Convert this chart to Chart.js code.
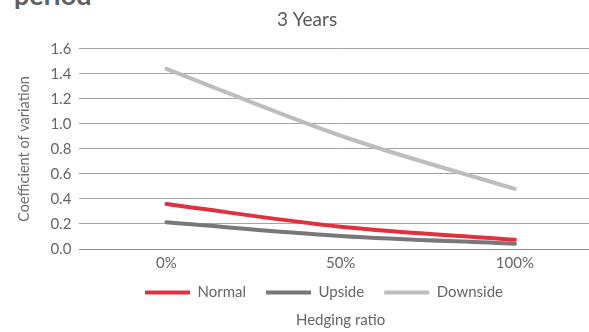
<!DOCTYPE html>
<html>
<head>
<meta charset="utf-8">
<script src="https://cdn.jsdelivr.net/npm/chart.js@4"></script>
<style>
  html, body { margin: 0; padding: 0; background: #fff; overflow: hidden; }
  #wrap { position: relative; width: 589px; height: 332px; overflow: hidden; }
  #heading {
    position: absolute; left: 14px; top: -19px;
    font: bold 27px Lato, sans-serif; line-height: 27px; color: #606060;
  }
  #chart { position: absolute; left: 0; top: 0; }
</style>
</head>
<body>
<div id="wrap">
  <div id="heading">period</div>
  <canvas id="chart" width="646" height="332"></canvas>
</div>
<script>
const hedgingRatios = ["0%", "50%", "100%"];
const normal = [0.36, 0.178, 0.074];
const upside = [0.213, 0.104, 0.042];
const downside = [1.44, 0.905, 0.48];

const textColor = "#666666";

// Excel centres the legend a bit right of the title and tucks it up
const nudgeLegend = {
    id: "nudgeLegend",
    afterLayout(chart) {
        const lg = chart.legend;
        if (!lg) return;
        lg.left += 34;
        lg.top -= 9;
        lg.bottom -= 9;
    }
};

function series(label, data, color) {
    return {
        label: label,
        data: data,
        borderColor: color,
        backgroundColor: color,
        borderWidth: 4,
        borderCapStyle: "round",
        tension: 0.35,
        pointRadius: 0,
        pointStyle: "line",
        fill: false
    };
}

new Chart(document.getElementById("chart"), {
    type: "line",
    data: {
        labels: hedgingRatios,
        datasets: [
            series("Normal", normal, "#e1303e"),
            series("Upside", upside, "#78787c"),
            series("Downside", downside, "#bdbdc0")
        ]
    },
    plugins: [nudgeLegend],
    options: {
        responsive: false,
        animation: false,
        layout: { padding: { left: 12, right: 44, top: 0, bottom: 0 } },
        scales: {
            x: {
                offset: true,
                grid: { display: false, drawTicks: false },
                border: { display: true, color: "#8c8c8c", width: 1 },
                ticks: { color: textColor, font: { family: "Lato", size: 15 }, padding: 5 },
                afterFit: scale => { scale.height -= 3; }
            },
            y: {
                min: 0,
                max: 1.6,
                ticks: {
                    stepSize: 0.2,
                    color: textColor,
                    font: { family: "Lato", size: 15 },
                    padding: 8,
                    callback: v => v.toFixed(1)
                },
                grid: { color: "#a6a6a6", lineWidth: 1, drawTicks: false },
                border: { display: false },
                title: {
                    display: true,
                    text: "Coefficient of variation",
                    color: "#707070",
                    font: { family: "Lato", size: 14.5 },
                    padding: { top: 4, bottom: 9 }
                }
            }
        },
        plugins: {
            title: {
                display: true,
                text: "3 Years",
                color: "#595959",
                font: { family: "Lato", size: 19, weight: "normal" },
                padding: { top: 8, bottom: 18 }
            },
            subtitle: {
                display: true,
                position: "bottom",
                fullSize: false,
                text: "Hedging ratio",
                color: textColor,
                font: { family: "Lato", size: 15 },
                padding: { top: -8, bottom: 3 }
            },
            legend: {
                position: "bottom",
                labels: {
                    usePointStyle: true,
                    pointStyleWidth: 45,
                    color: textColor,
                    font: { family: "Lato", size: 15 },
                    padding: 20
                }
            },
            tooltip: { enabled: false }
        }
    }
});
</script>
</body>
</html>
